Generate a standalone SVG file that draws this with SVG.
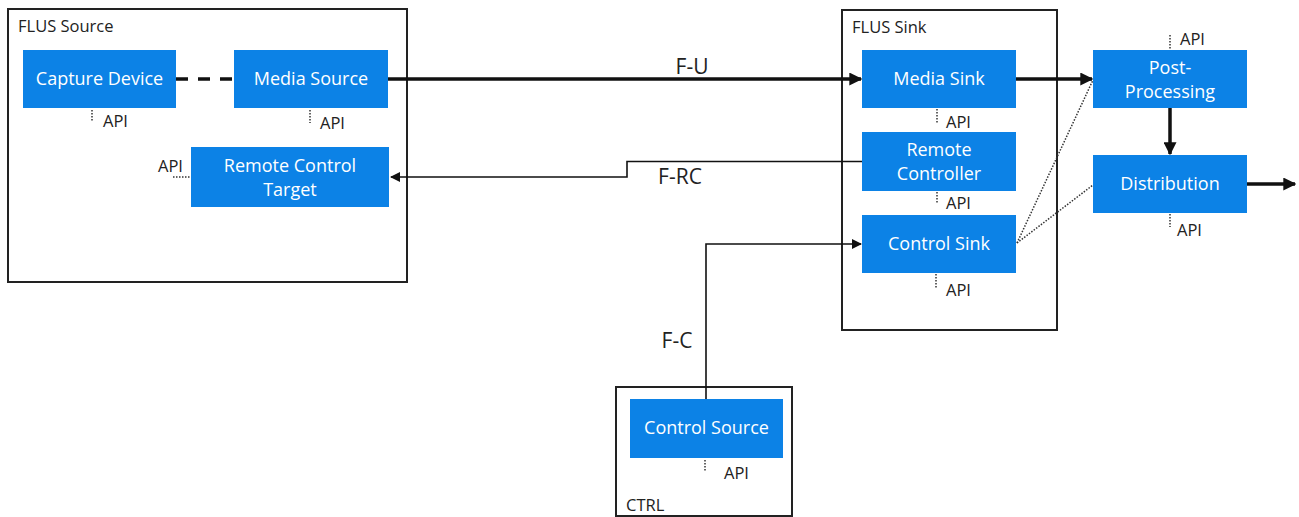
<svg xmlns="http://www.w3.org/2000/svg" width="1299" height="517" viewBox="0 0 1299 517">
<style>
.cont{fill:#fff;stroke:#222;stroke-width:2}
.node{fill:#0c82e6}
.nt{font-family:"Open Sans","Liberation Sans",sans-serif;font-size:18px;fill:#fff;text-anchor:middle}
.ct{font-family:"Open Sans","Liberation Sans",sans-serif;font-size:16.5px;fill:#222}
.api{font-family:"Open Sans","Liberation Sans",sans-serif;font-size:16.5px;fill:#222}
.lbl{font-family:"Open Sans","Liberation Sans",sans-serif;font-size:21px;fill:#222;text-anchor:middle}
.dot{stroke:#333;stroke-width:1.5;stroke-dasharray:1.5 1.5;fill:none}
.thick{stroke:#111;stroke-width:3.5;fill:none}
.thin{stroke:#111;stroke-width:1.6;fill:none}
</style>
<defs>
<marker id="ah" viewBox="0 0 10 10" refX="9" refY="5" markerWidth="10" markerHeight="10" markerUnits="userSpaceOnUse" orient="auto">
<path d="M0,0 L10,5 L0,10 z" fill="#111"/>
</marker>
<marker id="ahs" viewBox="0 0 10 10" refX="9" refY="5" markerWidth="13" markerHeight="13" markerUnits="userSpaceOnUse" orient="auto">
<path d="M0,0 L10,5 L0,10 z" fill="#111"/>
</marker>
</defs>

<g id="flus-source">
<rect class="cont" x="8" y="9" width="399" height="273"/>
<text class="ct" x="18" y="32">FLUS Source</text>
</g>
<g id="flus-sink">
<rect class="cont" x="842" y="10" width="215" height="320"/>
<text class="ct" x="852" y="33">FLUS Sink</text>
</g>
<g id="ctrl">
<rect class="cont" x="616" y="387" width="176" height="129"/>
<text class="ct" x="626" y="511">CTRL</text>
</g>

<g id="connectors">
<line class="thick" x1="176" y1="79" x2="234" y2="79" stroke-dasharray="12 10"/>
<line class="thick" x1="388" y1="79" x2="861" y2="79" marker-end="url(#ahs)"/>
<polyline class="thin" points="862,161.5 627,161.5 627,177 391,177" marker-end="url(#ah)"/>
<polyline class="thin" points="706,399 706,244 861,244" marker-end="url(#ah)"/>
<line class="thick" x1="1016" y1="79" x2="1092" y2="79" marker-end="url(#ahs)"/>
<line class="thick" x1="1170" y1="108" x2="1170" y2="154" marker-end="url(#ahs)"/>
<line class="thick" x1="1247" y1="184" x2="1295" y2="184" marker-end="url(#ahs)"/>
<line class="dot" x1="1017" y1="243" x2="1093" y2="80"/>
<line class="dot" x1="1017" y1="243" x2="1093" y2="185"/>
<text class="lbl" x="692" y="74">F-U</text>
<text class="lbl" x="680" y="184">F-RC</text>
<text class="lbl" x="677" y="348">F-C</text>
</g>

<g id="capture-device">
<rect class="node" x="23" y="50" width="153" height="58"/>
<text class="nt" x="99.5" y="85">Capture Device</text>
<line class="dot" x1="92" y1="110" x2="92" y2="122"/>
<text class="api" x="103" y="127">API</text>
</g>
<g id="media-source">
<rect class="node" x="234" y="50" width="154" height="58"/>
<text class="nt" x="311" y="85">Media Source</text>
<line class="dot" x1="310" y1="110" x2="310" y2="123"/>
<text class="api" x="320" y="129">API</text>
</g>
<g id="remote-control-target">
<rect class="node" x="191" y="147" width="198" height="60"/>
<text class="nt" x="290" y="172">Remote Control</text>
<text class="nt" x="290" y="196">Target</text>
<line class="dot" x1="173" y1="177" x2="191" y2="177"/>
<text class="api" x="158" y="172">API</text>
</g>
<g id="media-sink">
<rect class="node" x="862" y="50" width="154" height="58"/>
<text class="nt" x="939" y="85">Media Sink</text>
<line class="dot" x1="937" y1="109" x2="937" y2="123"/>
<text class="api" x="946" y="128">API</text>
</g>
<g id="remote-controller">
<rect class="node" x="862" y="132" width="154" height="59"/>
<text class="nt" x="939" y="156">Remote</text>
<text class="nt" x="939" y="180">Controller</text>
<line class="dot" x1="937" y1="192" x2="937" y2="204"/>
<text class="api" x="946" y="209">API</text>
</g>
<g id="control-sink">
<rect class="node" x="862" y="215" width="154" height="58"/>
<text class="nt" x="939" y="250">Control Sink</text>
<line class="dot" x1="936" y1="274" x2="936" y2="288"/>
<text class="api" x="946" y="296">API</text>
</g>
<g id="post-processing">
<rect class="node" x="1093" y="50" width="154" height="58"/>
<text class="nt" x="1170" y="74">Post-</text>
<text class="nt" x="1170" y="98">Processing</text>
<line class="dot" x1="1170" y1="35" x2="1170" y2="49"/>
<text class="api" x="1180" y="45">API</text>
</g>
<g id="distribution">
<rect class="node" x="1093" y="155" width="154" height="58"/>
<text class="nt" x="1170" y="190">Distribution</text>
<line class="dot" x1="1170" y1="214" x2="1170" y2="227"/>
<text class="api" x="1177" y="236">API</text>
</g>
<g id="control-source">
<rect class="node" x="630" y="399" width="153" height="59"/>
<text class="nt" x="706.5" y="434">Control Source</text>
<line class="dot" x1="705" y1="460" x2="705" y2="471"/>
<text class="api" x="724" y="479">API</text>
</g>
</svg>
